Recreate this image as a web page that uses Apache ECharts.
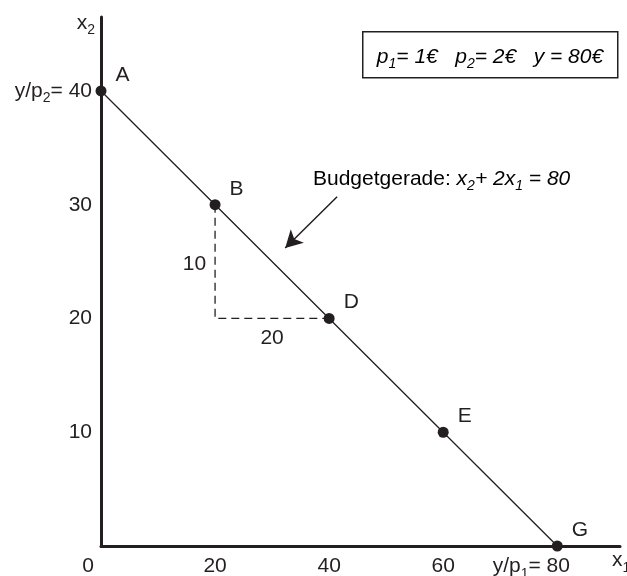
<!DOCTYPE html>
<html>
<head>
<meta charset="utf-8">
<script src="https://cdn.jsdelivr.net/npm/echarts@6/dist/echarts.min.js"></script>
<style>
  html, body { margin: 0; padding: 0; background: #fff; }
  #chart { width: 627px; height: 576px; }
</style>
</head>
<body>
<div id="chart"></div>
<script>
// Budget line x2 + 2*x1 = 80 with marked bundles
const bundleNames = ['A', 'B', 'D', 'E', 'G'];
const bundleX1 = [0, 20, 40, 60, 80];
const bundleX2 = [40, 30, 20, 10, 0];

// Slope triangle between B and D
const triangleX1 = [20, 20, 40];
const triangleX2 = [30, 20, 20];
const triangleLabels = [
  { text: '10', x1: 20, x2: 25, side: 'left' },
  { text: '20', x1: 30, x2: 20, side: 'bottom' }
];

// Arrow pointing from the caption to the line
const arrowFrom = [41.4, 30.7];
const arrowTo = [32.3, 26.2];

const xTicks = [0, 20, 40, 60, 80];
const yTicks = [0, 10, 20, 30, 40];

const FONT = '"Liberation Sans", Arial, Helvetica, sans-serif';
const INK = '#231f20';
const FS = 21;

const sub = { fontSize: 14, fontFamily: FONT, color: INK, padding: [15, 0, 0, 0] };
const subI = Object.assign({}, sub, { fontStyle: 'italic' });
const main = { fontSize: FS, fontFamily: FONT, color: INK };
const mainI = Object.assign({}, main, { fontStyle: 'italic' });
// x tick labels share one line height so the subscripted label sits level with the rest
const mainX = Object.assign({}, main, { lineHeight: 29 });

const chart = echarts.init(document.getElementById('chart'), null, { renderer: 'canvas' });

const option = {
  animation: false,
  backgroundColor: '#fff',
  grid: { left: 101, top: 17, width: 519, bottom: 30, containLabel: false, outerBoundsMode: 'none' },
  xAxis: {
    type: 'value', min: 0, max: 91, interval: 20,
    name: '{a|x}{s|1}',
    nameLocation: 'end', nameGap: -8, nameMoveOverlap: false,
    nameTextStyle: { verticalAlign: 'top', align: 'left', rich: { a: main, s: sub } },
    axisLine: { lineStyle: { color: INK, width: 3 } },
    axisTick: { show: false },
    splitLine: { show: false },
    axisLabel: {
      margin: 6, showMaxLabel: false, hideOverlap: false,
      fontSize: FS, fontFamily: FONT, color: INK,
      formatter: function (v) {
        if (v === 0) return '{z|0}';
        if (v === 80) return '{a|y/p}{s|1}{a|= 80}{pad|}';
        if (xTicks.indexOf(v) >= 0) return '{a|' + v + '}';
        return '';
      },
      rich: {
        a: mainX, s: sub,
        z: Object.assign({}, mainX, { padding: [0, 26, 0, 0] }),
        pad: { width: 52, lineHeight: 29 }
      }
    }
  },
  yAxis: {
    type: 'value', min: 0, max: 46.5, interval: 10,
    name: '{a|x}{s|2}',
    nameLocation: 'end', nameGap: -6, nameMoveOverlap: false,
    nameTextStyle: { align: 'right', verticalAlign: 'middle', padding: [0, 6, 0, 0], rich: { a: main, s: sub } },
    axisLine: { lineStyle: { color: INK, width: 3 } },
    axisTick: { show: false },
    splitLine: { show: false },
    axisLabel: {
      margin: 9, showMinLabel: false, showMaxLabel: false,
      fontSize: FS, fontFamily: FONT, color: INK,
      formatter: function (v) {
        if (v === 40) return '{a|y/p}{s|2}{a|= 40}';
        if (yTicks.indexOf(v) >= 0 && v !== 0) return '{a|' + v + '}';
        return '';
      },
      rich: { a: main, s: sub }
    }
  },
  series: [
    {
      type: 'line',
      data: bundleX1.map((x, i) => ({ value: [x, bundleX2[i]], name: bundleNames[i] })),
      lineStyle: { color: INK, width: 1.3 },
      symbol: 'circle', symbolSize: 11,
      itemStyle: { color: INK },
      label: {
        show: true, position: 'right', distance: 9, offset: [0, -16],
        formatter: p => p.name,
        fontSize: FS, fontFamily: FONT, color: INK
      },
      clip: false,
      z: 5,
      markLine: {
        silent: true,
        symbol: ['none', 'arrow'],
        symbolSize: [14, 17],
        label: { show: false },
        lineStyle: { color: INK, width: 1.5, type: 'solid' },
        data: [[{ coord: arrowFrom }, { coord: arrowTo }]]
      }
    },
    {
      type: 'line',
      data: triangleX1.map((x, i) => [x, triangleX2[i]]),
      symbol: 'none',
      lineStyle: { color: INK, width: 1.3, type: [8, 5] },
      z: 3
    },
    {
      type: 'scatter',
      data: triangleLabels.map(t => ({
        value: [t.x1, t.x2], name: t.text,
        label: t.side === 'left'
          ? { position: 'left', distance: 9, offset: [0, 3] }
          : { position: 'bottom', distance: 9 }
      })),
      symbolSize: 0,
      itemStyle: { opacity: 1, color: INK },
      label: {
        show: true,
        formatter: p => p.name,
        fontSize: FS, fontFamily: FONT, color: INK
      }
    }
  ],
  graphic: [
    {
      type: 'rect', left: 362, top: 31,
      shape: { width: 255, height: 46 },
      style: { fill: '#fff', stroke: INK, lineWidth: 1.5 }
    },
    {
      type: 'text', x: 490, y: 57,
      style: {
        text: '{i|p}{s|1}{i|= 1€   p}{s|2}{i|= 2€   y = 80€}',
        align: 'center', verticalAlign: 'middle',
        rich: { i: mainI, s: subI }
      }
    },
    {
      type: 'text', x: 313, y: 179,
      style: {
        text: '{a|Budgetgerade: }{i|x}{s|2}{i|+ 2x}{s|1}{i| = 80}',
        align: 'left', verticalAlign: 'middle',
        rich: { a: main, i: mainI, s: subI }
      }
    }
  ]
};

chart.setOption(option);
</script>
</body>
</html>
